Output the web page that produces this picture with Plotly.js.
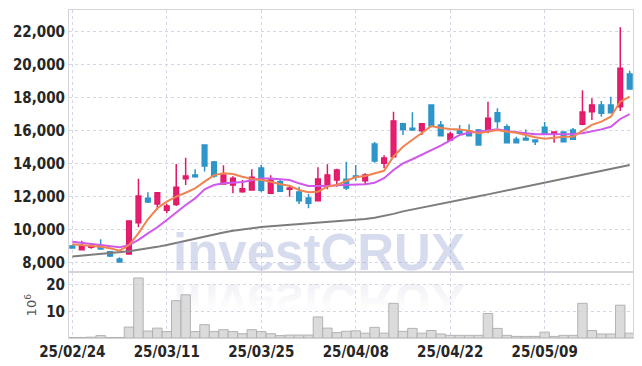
<!DOCTYPE html>
<html><head><meta charset="utf-8">
<script src="https://cdn.plot.ly/plotly-3.0.1.min.js"></script>
<style>html,body{margin:0;padding:0;background:#fff}#chart{width:642px;height:366px}</style>
</head><body><div id="chart"></div>
<script>
const dates = ['25/02/24','25/02/25','25/02/26','25/02/27','25/02/28','25/03/04','25/03/05','25/03/06','25/03/07','25/03/10',
'25/03/11','25/03/12','25/03/13','25/03/14','25/03/17','25/03/18','25/03/19','25/03/20','25/03/21','25/03/24',
'25/03/25','25/03/26','25/03/27','25/03/28','25/03/31','25/04/01','25/04/02','25/04/03','25/04/04','25/04/07',
'25/04/08','25/04/09','25/04/10','25/04/11','25/04/14','25/04/15','25/04/16','25/04/17','25/04/18','25/04/21',
'25/04/22','25/04/23','25/04/24','25/04/25','25/04/28','25/04/29','25/04/30','25/05/02','25/05/07','25/05/08',
'25/05/09','25/05/12','25/05/13','25/05/14','25/05/15','25/05/16','25/05/19','25/05/20','25/05/21','25/05/22'];
const openP = [9010,8790,8930,9010,8670,8220,8530,10420,11900,11560,
11180,11520,13090,13320,15130,14100,12770,12710,12300,12410,
13740,12210,12910,12450,12280,11920,11760,12710,13010,13050,
13250,12970,15190,14020,14420,16420,16150,16000,17560,16350,
15440,16040,15980,16040,16080,17090,16240,15480,15540,15440,
16210,15800,15920,16040,16390,17150,17560,17560,17450,19440];
const highP = [9080,9330,9150,9420,8710,8330,10530,13090,12270,12280,
11580,13980,14360,13660,15130,14160,13900,13240,13010,13660,
13940,13300,13010,12710,12610,12160,13780,13960,13700,14120,
13920,13420,15310,14510,17150,16480,17120,16420,17560,16590,
15940,16350,16390,16100,17760,17360,16390,15640,16080,15440,
16530,15920,15920,16160,18450,17960,17800,18060,22270,19640];
const lowP = [8850,8790,8850,8830,8350,8040,8480,10150,11620,11190,
10990,11440,12710,13150,13520,13150,12770,12210,12240,12410,
12270,12210,12290,12000,11560,11300,11760,12450,12610,12410,
12970,12710,14060,13720,14420,15740,16040,15740,16280,15700,
15440,15800,15700,15130,15840,16150,15270,15270,15440,15130,
15780,15270,15330,15480,16330,16650,16850,17090,17190,18530];
const closeP = [8890,9010,9030,8830,8410,8040,10530,12040,11680,12240,
11440,12570,13250,13210,13860,13250,13320,13120,12480,13180,
12390,13010,12330,12530,11760,11600,13070,13320,13620,12530,
13190,13320,14160,14350,16590,16080,16040,16420,16280,15700,
15800,15840,15700,15130,16750,16550,15270,15270,15440,15330,
15780,15920,15330,15480,17130,17560,17050,17090,19780,18530];
const volumeM = [0.2,0.2,0.3,0.9,0.2,0.2,4.1,22.5,2.6,3.7,
2.4,14.0,16.2,2.4,5.0,2.4,3.1,2.4,1.6,3.1,
2.4,1.6,0.9,1.1,1.1,1.1,7.9,3.7,2.0,2.5,
2.7,1.8,4.0,1.8,13.0,2.5,3.6,1.8,2.8,1.5,
1.0,1.0,1.0,1.0,9.2,3.6,1.0,0.6,0.6,0.6,
2.2,0.6,1.0,1.0,13.0,2.8,1.5,1.5,12.3,1.8];
const maShort = [9115,9075,9030,8970,8870,8730,9070,9780,10630,11300,
11700,12000,12240,12510,12910,13310,13420,13380,13210,13080,
13010,12910,12750,12670,12410,12270,12300,12610,12710,12950,
13190,13260,13400,13570,14440,15030,15450,15840,16280,16170,
16100,16080,16000,15840,15920,16040,15940,15880,15740,15600,
15520,15600,15640,15640,15980,16350,16550,16850,17760,18060];
const maMid = [9270,9210,9130,9070,9010,8930,9070,9380,9780,10150,
10590,11050,11500,11900,12450,12710,12810,12850,12890,13000,
13100,13100,13070,13010,12810,12650,12650,12650,12700,12710,
12710,12750,12850,13120,13620,14020,14270,14530,14790,15100,
15410,15740,15880,15940,16040,16080,15980,15900,15840,15780,
15780,15780,15780,15800,15840,15940,16080,16240,16710,17010];
const maLong = [8370,8420,8470,8510,8560,8620,8700,8780,8860,8960,
9070,9200,9330,9470,9610,9720,9830,9930,10020,10100,
10160,10210,10250,10290,10330,10370,10410,10450,10490,10540,
10600,10650,10720,10820,10960,11110,11230,11350,11460,11580,
11700,11810,11920,12030,12140,12260,12370,12480,12600,12710,
12830,12950,13060,13180,13300,13420,13540,13660,13790,13920];
const xTickLabels = ['25/02/24','25/03/11','25/03/25','25/04/08','25/04/22','25/05/09'];
const priceTicks = [8000,10000,12000,14000,16000,18000,20000,22000];
const volTicks = [10,20];

const tickFont = {family:'"Liberation Sans Narrow","DejaVu Sans Condensed",sans-serif', size:15, weight:'bold', color:'#262626'};
const gridCol = 'rgb(214,214,232)';
const lineCol = 'rgb(212,212,218)';

const traces = [
  {type:'candlestick', x:dates, open:openP, high:highP, low:lowP, close:closeP, xaxis:'x', yaxis:'y',
   increasing:{line:{color:'rgb(226,24,104)', width:1.5}, fillcolor:'rgb(230,30,110)'},
   decreasing:{line:{color:'rgb(45,148,200)', width:1.5}, fillcolor:'rgb(45,150,202)'},
   showlegend:false, hoverinfo:'skip'},
  {type:'scatter', mode:'lines', x:dates, y:maLong, line:{color:'rgb(125,125,125)', width:2}, yaxis:'y', showlegend:false, hoverinfo:'skip'},
  {type:'scatter', mode:'lines', x:dates, y:maMid, line:{color:'rgb(208,88,236)', width:2}, yaxis:'y', showlegend:false, hoverinfo:'skip'},
  {type:'scatter', mode:'lines', x:dates, y:maShort, line:{color:'rgb(240,132,80)', width:2}, yaxis:'y', showlegend:false, hoverinfo:'skip'},
  {type:'bar', x:dates, y:volumeM, xaxis:'x', yaxis:'y2', marker:{color:'rgba(210,210,210,0.8)', line:{color:'rgb(178,178,178)', width:1}},
   width:1, showlegend:false, hoverinfo:'skip'}
];

const wmFont = {family:'"Liberation Sans",Arial,sans-serif', size:51, weight:'bold', color:'rgba(150,160,210,0.38)'};
const layout = {
  width:642, height:366,
  margin:{l:69, r:9, t:10, b:28},
  paper_bgcolor:'#fff', plot_bgcolor:'#fff',
  showlegend:false,
  bargap:0,
  xaxis:{type:'category', anchor:'y2', range:[-0.35, 59.35], rangeslider:{visible:false},
    tickmode:'array', tickvals:xTickLabels, ticktext:xTickLabels, ticks:'', tickfont:tickFont,
    showgrid:true, gridcolor:gridCol, griddash:'dot', gridwidth:1,
    showline:true, linecolor:lineCol, linewidth:1, mirror:'all', zeroline:false, fixedrange:true},
  yaxis:{domain:[0.2,1], range:[7412, 23315], tickmode:'array', tickvals:priceTicks, tickformat:',d',
    ticks:'', tickfont:tickFont, showgrid:true, gridcolor:gridCol, griddash:'dot', gridwidth:1,
    showline:true, linecolor:lineCol, mirror:true, zeroline:false},
  yaxis2:{domain:[0,0.2], range:[0, 24.6], tickmode:'array', tickvals:volTicks, ticks:'', tickfont:tickFont,
    showgrid:true, gridcolor:gridCol, griddash:'dot', gridwidth:1,
    showline:true, linecolor:lineCol, mirror:true, zeroline:false,
    title:{text:'10<sup>6</sup>', font:{family:'"DejaVu Sans",sans-serif', size:13, color:'#555'}, standoff:6}},
  annotations:[
    {text:'investCRUX', xref:'paper', yref:'paper', x:0.443, y:0.262, xanchor:'center', yanchor:'middle', showarrow:false, font:wmFont},
    {text:'investCRUX', xref:'paper', yref:'paper', x:0.443, y:0.262, xanchor:'center', yanchor:'middle', showarrow:false,
     font:{family:wmFont.family, size:51, weight:'bold', color:'rgba(175,175,205,0.3)'}}
  ]
};

function mirrorWatermark(){
  try {
    const anns = document.querySelectorAll('g.annotation');
    if (anns.length < 2) return;
    const g = anns[anns.length-1];
    const t = g.querySelector('text');
    const r = t.getBoundingClientRect();
    const base = r.top + r.height * 0.81 + 7;
    g.querySelectorAll('[clip-path]').forEach(function(el){ el.removeAttribute('clip-path'); });
    g.setAttribute('transform', 'translate(0,' + (2*base).toFixed(1) + ') scale(1,-1)');
    const ns = 'http://www.w3.org/2000/svg';
    const svg = t.ownerSVGElement;
    let defs = svg.querySelector('defs');
    if (!defs) { defs = document.createElementNS(ns, 'defs'); svg.insertBefore(defs, svg.firstChild); }
    const grad = document.createElementNS(ns, 'linearGradient');
    grad.setAttribute('id', 'wmFade');
    grad.setAttribute('x1','0'); grad.setAttribute('y1','0'); grad.setAttribute('x2','0'); grad.setAttribute('y2','1');
    [[0,0],[0.3,0],[0.85,0.8],[1,0.8]].forEach(function(s){
      const st = document.createElementNS(ns,'stop');
      st.setAttribute('offset', s[0]);
      st.setAttribute('stop-color','rgb(195,195,218)');
      st.setAttribute('stop-opacity', s[1]);
      grad.appendChild(st);
    });
    defs.appendChild(grad);
    t.style.fill = 'url(#wmFade)';
  } catch(e) { console.error(e); }
}

Plotly.newPlot('chart', traces, layout, {staticPlot:true, displayModeBar:false});
mirrorWatermark();
</script>
</body></html>
